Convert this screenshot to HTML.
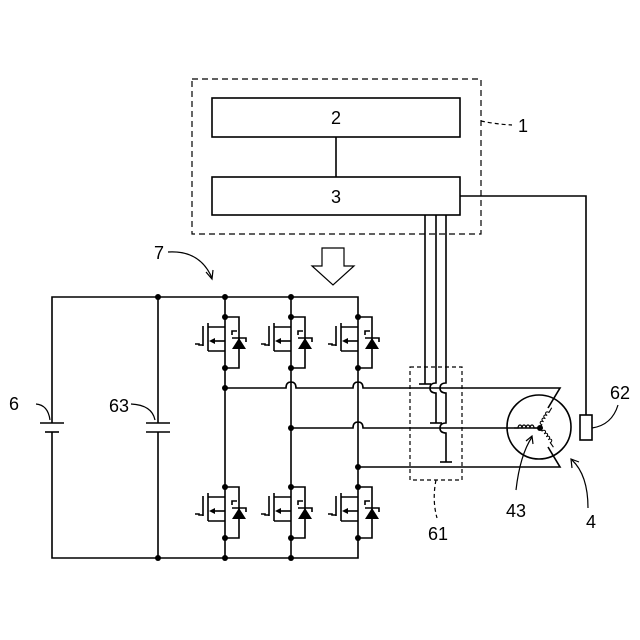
<!DOCTYPE html><html><head><meta charset="utf-8"><style>html,body{margin:0;background:#fff}svg{display:block}</style></head><body>
<svg width="640" height="640" xmlns="http://www.w3.org/2000/svg" font-family="Liberation Sans, sans-serif" font-size="18">
<defs>
<g id="fet" stroke="#000" stroke-width="1.6" fill="none">
<line x1="0" y1="0" x2="0" y2="51"/>
<polyline points="0,0 14,0 14,51 0,51"/>
<polygon points="7,32 21,32 14,21" fill="#000" stroke="none"/>
<polyline points="7,18 7,14 12,14"/>
<polyline points="7,21 21,21 21,25"/>
<polyline points="0,10 -17,10"/>
<line x1="-17" y1="6" x2="-17" y2="34"/>
<polyline points="0,34 -17,34"/>
<line x1="-22" y1="9" x2="-22" y2="29"/>
<polyline points="-30,27 -26,27 -26,28 -22,28"/>
<line x1="0" y1="24" x2="-14" y2="24"/>
<polygon points="-16,24 -10,21 -10,27" fill="#000" stroke="none"/>
<circle cx="0" cy="0" r="3" fill="#000" stroke="none"/>
<circle cx="0" cy="51" r="3" fill="#000" stroke="none"/>
</g>
<path id="coil" d="M0,0 h4 a2,3 0 0 1 4,0 a2,3 0 0 1 4,0 a2,3 0 0 1 4,0 a2,3 0 0 1 4,0 h6" stroke="#000" stroke-width="1.2" fill="none"/>
</defs>
<g stroke="#000" stroke-width="1.6" fill="none">
<rect x="192" y="79" width="289" height="155" stroke-dasharray="6,4" stroke-width="1.2"/>
<rect x="212" y="98" width="248" height="39"/>
<rect x="212" y="177" width="248" height="38"/>
<line x1="336" y1="137" x2="336" y2="177"/>
<path d="M481,121 Q495,124 512,125" stroke-dasharray="4,3" stroke-width="1.2"/>
<polygon points="322,248 344,248 344,266 354,266 333,285 312,266 322,266" stroke-width="1.2"/>
<path d="M168,252 Q200,250 212,278" stroke-width="1.2"/>
<polyline points="206,272 212,279 213,270" stroke-width="1.2"/>
<polyline points="52,423 52,297 358,297 358,317"/>
<polyline points="52,432 52,558 358,558 358,539"/>
<line x1="158" y1="297" x2="158" y2="423"/>
<line x1="158" y1="432" x2="158" y2="558"/>
<line x1="40" y1="423" x2="64" y2="423"/><line x1="45" y1="432" x2="59" y2="432"/>
<line x1="146" y1="423" x2="170" y2="423"/><line x1="146" y1="432" x2="170" y2="432"/>
<path d="M36,404 Q48,405 50,420" stroke-width="1.2"/>
<path d="M131,404 Q152,405 155,420" stroke-width="1.2"/>
<line x1="225" y1="297" x2="225" y2="317"/><line x1="291" y1="297" x2="291" y2="317"/>
<line x1="225" y1="368" x2="225" y2="487"/>
<line x1="291" y1="368" x2="291" y2="487"/>
<line x1="358" y1="368" x2="358" y2="487"/>
<line x1="225" y1="539" x2="225" y2="558"/><line x1="291" y1="539" x2="291" y2="558"/>
<path d="M225,388 H286 Q286,382 291,382 Q296,382 296,388 H353 Q353,382 358,382 Q363,382 363,388 H560 L548,408"/>
<path d="M291,428 H353 Q353,422 358,422 Q363,422 363,428 H540"/>
<path d="M358,467 H560 L548,447"/>
<circle cx="539" cy="427" r="32"/>
<line x1="425" y1="215" x2="425" y2="384"/><line x1="419" y1="384" x2="431" y2="384"/>
<path d="M436,215 V383 Q430,383 430,388 Q430,393 436,393 V423"/><line x1="430" y1="423" x2="442" y2="423"/>
<path d="M446,215 V383 Q440,383 440,388 Q440,393 446,393 V423 Q440,423 440,428 Q440,433 446,433 V462"/><line x1="440" y1="462" x2="452" y2="462"/>
<rect x="410" y="367" width="52" height="113" stroke-dasharray="4,3" stroke-width="1.2"/>
<path d="M436,480 Q432,500 437,518" stroke-dasharray="4,3" stroke-width="1.2"/>
<polyline points="460,196 586,196 586,415"/>
<rect x="580" y="415" width="12" height="25"/>
<path d="M592,428 Q612,425 618,405" stroke-width="1.2"/>
<path d="M516,490 Q520,455 532,437" stroke-width="1.2"/>
<polyline points="526,441 532,436 533,444" stroke-width="1.2"/>
<path d="M588,508 Q588,475 572,460" stroke-width="1.2"/>
<polyline points="572,468 571,459 579,462" stroke-width="1.2"/>
</g>
<use href="#coil" transform="translate(514,428)"/>
<use href="#coil" transform="translate(540,428) rotate(-60) scale(0.9)"/>
<use href="#coil" transform="translate(540,428) rotate(55) scale(0.9)"/>
<g fill="#000">
<circle cx="540" cy="428" r="3"/>
<circle cx="158" cy="297" r="3"/><circle cx="225" cy="297" r="3"/><circle cx="291" cy="297" r="3"/>
<circle cx="158" cy="558" r="3"/><circle cx="225" cy="558" r="3"/><circle cx="291" cy="558" r="3"/>
<circle cx="225" cy="388" r="3"/><circle cx="291" cy="428" r="3"/><circle cx="358" cy="467" r="3"/>
</g>
<use href="#fet" x="225" y="317"/><use href="#fet" x="291" y="317"/><use href="#fet" x="358" y="317"/>
<use href="#fet" x="225" y="487"/><use href="#fet" x="291" y="487"/><use href="#fet" x="358" y="487"/>
<g text-anchor="middle">
<text x="336" y="124">2</text><text x="336" y="203">3</text>
<text x="523" y="132">1</text><text x="159" y="259">7</text>
<text x="14" y="410">6</text><text x="119" y="412">63</text>
<text x="620" y="399">62</text><text x="516" y="517">43</text>
<text x="591" y="528">4</text><text x="438" y="540">61</text>
</g>
</svg>
</body></html>
